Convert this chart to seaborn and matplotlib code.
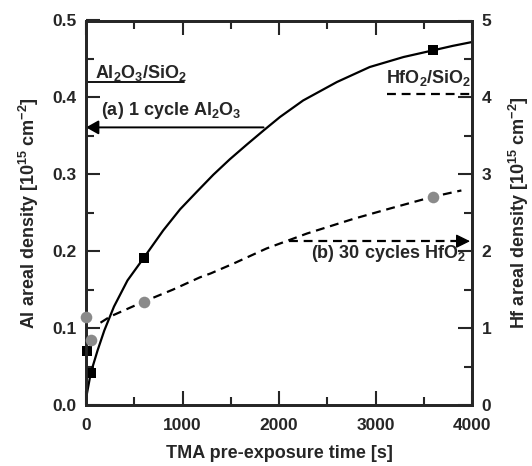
import matplotlib
matplotlib.use("Agg")
import matplotlib.pyplot as plt
import seaborn as sns
from matplotlib.ticker import MultipleLocator

# ---------------- data ----------------
al_time = [10, 50, 600, 3600]
al_density = [0.070, 0.042, 0.191, 0.461]

hf_time = [5, 50, 600, 3600]
hf_density = [1.14, 0.84, 1.34, 2.71]

al_fit_time = [0, 10, 50, 120, 190, 290, 430, 594, 800, 975, 1150, 1320, 1490,
               1665, 1840, 2010, 2250, 2600, 2940, 3290, 3590, 3800, 4000]
al_fit_density = [0.0, 0.015, 0.042, 0.071, 0.097, 0.128, 0.162, 0.1905, 0.227,
                  0.2545, 0.2775, 0.2995, 0.3195, 0.3385, 0.357, 0.3745, 0.396, 0.420,
                  0.4395, 0.4525, 0.461, 0.467, 0.472]

hf_fit_time = [150, 250, 590, 900, 1180, 1290, 1530, 1870, 2290, 2770, 3150, 3600, 3890]
hf_fit_density = [1.07, 1.15, 1.34, 1.50, 1.66, 1.71, 1.84, 2.035, 2.23, 2.42,
                  2.555, 2.71, 2.79]

al_ref_level = 0.42        # Al2O3/SiO2 reference
al_ref_span = [0, 1020]
hf_ref_level = 4.05        # HfO2/SiO2 reference
hf_ref_span = [3115, 4000]

arrow_a = dict(start=1840, end=0, level=0.361)
arrow_b = dict(start=2100, end=3980, level=2.13)

x_label = "TMA pre-exposure time [s]"
y_label_left = r"Al areal density [10$^{15}$ cm$^{-2}$]"
y_label_right = r"Hf areal density [10$^{15}$ cm$^{-2}$]"

# ---------------- style ----------------
sns.set_style("ticks")
plt.rcParams["font.family"] = ["Liberation Sans", "DejaVu Sans"]
plt.rcParams["font.weight"] = "bold"
plt.rcParams["axes.labelweight"] = "bold"
plt.rcParams["mathtext.fontset"] = "custom"
plt.rcParams["mathtext.rm"] = "Liberation Sans:bold"
plt.rcParams["mathtext.it"] = "Liberation Sans:bold"
plt.rcParams["mathtext.bf"] = "Liberation Sans:bold"
plt.rcParams["mathtext.default"] = "rm"

fig = plt.figure(figsize=(5.32, 4.66), dpi=100)
ax = fig.add_axes([86 / 532, 1 - 405 / 466, (472 - 86) / 532, (405 - 20.5) / 466])
ax2 = ax.twinx()

lw = 1.6
dash = (0, (4, 2.6))

# fits
sns.lineplot(x=al_fit_time, y=al_fit_density, ax=ax, color="k", lw=lw,
             sort=False, estimator=None, zorder=2)
sns.lineplot(x=hf_fit_time, y=hf_fit_density, ax=ax2, color="k", lw=lw,
             sort=False, estimator=None, linestyle=dash, zorder=2)

# data points
sns.scatterplot(x=hf_time, y=hf_density, ax=ax2, marker="o", color="#8a8a8a",
                s=70, linewidth=0, clip_on=False, zorder=3)
sns.scatterplot(x=al_time, y=al_density, ax=ax, marker="s", color="k",
                s=58, linewidth=0, clip_on=False, zorder=3)

# reference lines
ax.plot(al_ref_span, [al_ref_level, al_ref_level], color="k", lw=1.3)
ax2.plot(hf_ref_span, [hf_ref_level, hf_ref_level], color="k", lw=lw, linestyle=dash)

fs_txt = 13
ax.text(93, 0.432, r"Al$_2$O$_3$/SiO$_2$", fontsize=fs_txt, ha="left", va="center")
ax2.text(3105, 4.25, r"HfO$_2$/SiO$_2$", fontsize=fs_txt, ha="left", va="center")
ax.text(160, 0.383, r"(a) 1 cycle Al$_2$O$_3$", fontsize=fs_txt, ha="left", va="center")
ax2.text(3935, 1.97, r"(b) 30 cycles HfO$_2$", fontsize=fs_txt, ha="right", va="center")

# arrow (a)
ax.annotate("", xy=(arrow_a["end"], arrow_a["level"]),
            xytext=(arrow_a["start"], arrow_a["level"]),
            arrowprops=dict(arrowstyle="-|>,head_length=0.75,head_width=0.42",
                            lw=1.4, color="k", shrinkA=0, shrinkB=0,
                            mutation_scale=10))
# arrow (b) dashed shaft + solid head
head_len = 120
ax2.plot([arrow_b["start"], arrow_b["end"] - head_len],
         [arrow_b["level"], arrow_b["level"]], color="k", lw=lw, linestyle=dash)
ax2.annotate("", xy=(arrow_b["end"], arrow_b["level"]),
             xytext=(arrow_b["end"] - head_len, arrow_b["level"]),
             arrowprops=dict(arrowstyle="-|>,head_length=0.85,head_width=0.42",
                             lw=1.0, color="k", shrinkA=0, shrinkB=0,
                             mutation_scale=10))

# axes
ax.set_xlim(0, 4000)
ax.set_ylim(0, 0.5)
ax2.set_ylim(0, 5)
ax.xaxis.set_major_locator(MultipleLocator(1000))
ax.xaxis.set_minor_locator(MultipleLocator(500))
ax.yaxis.set_major_locator(MultipleLocator(0.1))
ax.yaxis.set_minor_locator(MultipleLocator(0.05))
ax2.yaxis.set_major_locator(MultipleLocator(1))
ax2.yaxis.set_minor_locator(MultipleLocator(0.5))

fs_tick = 12.5
ax.tick_params(which="both", direction="in", top=True, right=False, width=1.5,
               labelsize=fs_tick, pad=7)
ax.tick_params(axis="x", which="both", pad=9)
ax.tick_params(which="major", length=10)
ax.tick_params(which="minor", length=6)
ax2.tick_params(which="both", direction="in", right=True, width=1.5,
                labelsize=fs_tick, pad=7)
ax2.tick_params(which="major", length=10)
ax2.tick_params(which="minor", length=6)
for lab in ax.get_xticklabels() + ax.get_yticklabels() + ax2.get_yticklabels():
    lab.set_fontweight("bold")

for a in (ax, ax2):
    for s in a.spines.values():
        s.set_linewidth(2)
        s.set_visible(True)

ax.set_xlabel(x_label, fontsize=13, fontweight="bold", labelpad=9)
ax.set_ylabel(y_label_left, fontsize=13, fontweight="bold", labelpad=8)
ax2.set_ylabel(y_label_right, fontsize=13, fontweight="bold", labelpad=11)

fig.savefig("out.png", dpi=100)
